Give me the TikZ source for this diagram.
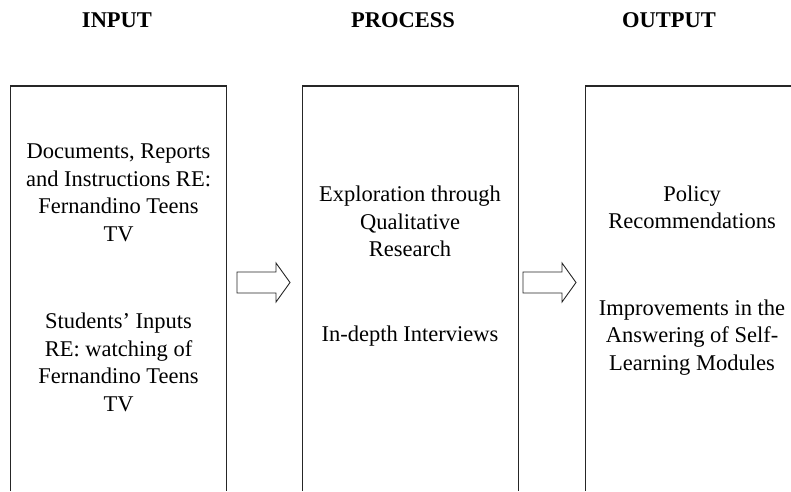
\documentclass[tikz,border=0pt]{standalone}
\usepackage{fontspec}
\setmainfont{Liberation Serif}

\begin{document}
\begin{tikzpicture}[x=1pt, y=-1pt,
    heading/.style={font=\fontsize{22.5}{27.5}\selectfont\bfseries, anchor=base, inner sep=0pt},
    body/.style={font=\fontsize{22.5}{27.5}\selectfont, align=center, anchor=base, inner sep=0pt},
    frame/.style={line width=1.2pt, draw=black!85},
    blockarrow/.style={line width=0.9pt, draw=black!85}]
    \useasboundingbox (0,0) rectangle (791,491);

    \node[heading] (input)   at (117,27) {INPUT};
    \node[heading] (process) at (403,27) {PROCESS};
    \node[heading] (output)  at (669,27) {OUTPUT};

    % columns, open at the bottom edge
    \draw[frame] (10.5,491) -- (10.5,86) -- (226.5,86) -- (226.5,491);
    \draw[frame] (302.5,491) -- (302.5,86) -- (518.5,86) -- (518.5,491);
    \draw[frame] (585.5,491) -- (585.5,86) -- (791,86);

    % base = baseline of the last line
    \node[body] (docs)     at (118.5,241) {Documents, Reports\\and Instructions RE:\\Fernandino Teens\\TV};
    \node[body] (students) at (118.5,411) {Students’ Inputs\\RE: watching of\\Fernandino Teens\\TV};

    \node[body] (explore)    at (410,256.5) {Exploration through\\Qualitative\\Research};
    \node[body] (interviews) at (410,341.7) {In-depth Interviews};

    \node[body] (policy)  at (692,228.5) {Policy\\Recommendations};
    \node[body] (improve) at (692,370) {Improvements in the\\Answering of Self-\\Learning Modules};

    % hollow arrows between the columns
    \foreach \x in {237,523}
        \draw[blockarrow] (\x,272) -- ++(39,0) -- ++(0,-9) -- ++(14,19.5)
            -- ++(-14,19.5) -- ++(0,-9) -- ++(-39,0) -- cycle;
\end{tikzpicture}
\end{document}
